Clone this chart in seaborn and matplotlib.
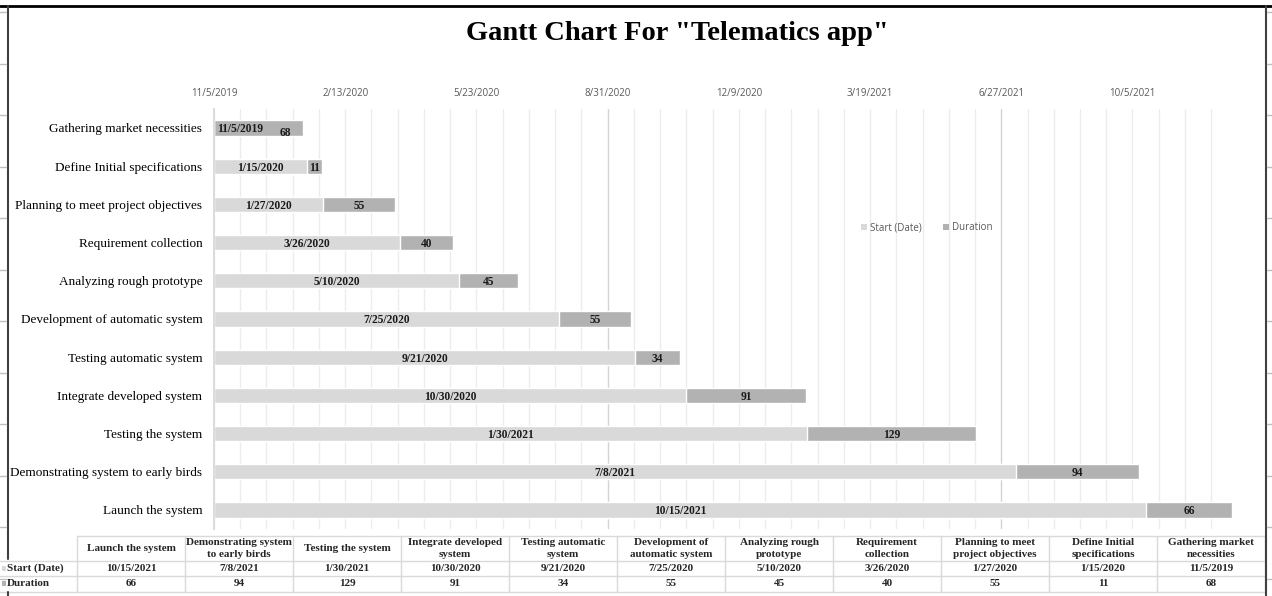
import matplotlib
matplotlib.use("Agg")
import matplotlib.pyplot as plt
import seaborn as sns
import pandas as pd
import numpy as np
import textwrap
from matplotlib.lines import Line2D
from matplotlib.patches import Patch, Rectangle

# ---------------- data ----------------
tasks = ["Launch the system", "Demonstrating system to early birds", "Testing the system",
         "Integrate developed system", "Testing automatic system", "Development of automatic system",
         "Analyzing rough prototype", "Requirement collection", "Planning to meet project objectives",
         "Define Initial specifications", "Gathering market necessities"]
start_dates = ["10/15/2021", "7/8/2021", "1/30/2021", "10/30/2020", "9/21/2020", "7/25/2020",
               "5/10/2020", "3/26/2020", "1/27/2020", "1/15/2020", "11/5/2019"]
durations = [66, 94, 129, 91, 34, 55, 45, 40, 55, 11, 68]
tick_labels = ["11/5/2019", "2/13/2020", "5/23/2020", "8/31/2020", "12/9/2020",
               "3/19/2021", "6/27/2021", "10/5/2021"]
axis_min_date = "11/5/2019"
axis_max_days = 777
grid_step_days = 20
title = 'Gantt Chart For "Telematics app"'
series_names = ["Start (Date)", "Duration"]

# ---------------- styling ----------------
W, H, DPI = 1272, 596, 100
LIGHT = "#d9d9d9"
DARK = "#b2b2b2"
SERIF = ["Liberation Serif", "DejaVu Serif"]
SANS = ["Open Sans", "DejaVu Sans"]

sns.set_theme(style="white")
plt.rcParams["font.family"] = SERIF

origin = pd.to_datetime(axis_min_date, format="%m/%d/%Y")
start_days = [(pd.to_datetime(d, format="%m/%d/%Y") - origin).days for d in start_dates]
df = pd.DataFrame({"task": tasks, "start": start_days, "dur": durations})
df["end"] = df["start"] + df["dur"]
order = tasks[::-1]

fx = lambda x: x / W
fy = lambda y: 1 - y / H

fig = plt.figure(figsize=(W / DPI, H / DPI), dpi=DPI)
ax_left, ax_right, ax_top, ax_bot = 214, 1233.5, 108.9, 529.1
ax = fig.add_axes([fx(ax_left), fy(ax_bot), fx(ax_right) - fx(ax_left), (ax_bot - ax_top) / H])

bw = 0.40
sns.barplot(data=df, y="task", x="end", order=order, color=DARK, saturation=1,
            width=bw, errorbar=None, ax=ax, orient="h", zorder=3)
sns.barplot(data=df, y="task", x="start", order=order, color=LIGHT, saturation=1,
            width=bw, errorbar=None, ax=ax, orient="h", zorder=4)

ax.set_xlim(0, axis_max_days)
ax.set_ylim(len(order) - 0.5, -0.5)
ax.set_xlabel("")
ax.set_ylabel("")

# x ticks on top
tick_pos = [(pd.to_datetime(t, format="%m/%d/%Y") - origin).days for t in tick_labels]
ax.xaxis.tick_top()
ax.set_xticks(tick_pos)
ax.set_xticklabels(tick_labels, fontfamily=SANS, fontsize=7, color="#595959")
ax.set_xticks(np.arange(0, axis_max_days, grid_step_days), minor=True)
ax.tick_params(axis="x", which="both", length=0, pad=7)
ax.tick_params(axis="y", length=0, pad=8.4, labelsize=9.5, labelcolor="black")
for lab in ax.get_yticklabels():
    lab.set_fontfamily(SERIF)
ax.grid(False)
for xv in np.arange(0, axis_max_days, grid_step_days):
    c = "#d3d3d3" if xv in (300, 600) else "#ececec"
    ax.axvline(xv, color=c, lw=1.0, zorder=1)
ax.set_axisbelow(True)
for s in ["top", "right", "bottom"]:
    ax.spines[s].set_visible(False)
ax.spines["left"].set_color("#d9d9d9")
ax.spines["left"].set_linewidth(1.3)
ax.spines["left"].set_zorder(5)

# bar labels
lab_kw = dict(fontsize=8.3, fontweight="bold", color="#1a1a1a", zorder=6, va="center_baseline")
for i, t in enumerate(order):
    row = df[df.task == t].iloc[0]
    sd = start_dates[tasks.index(t)]
    if row.start > 0:
        ax.text(row.start / 2, i, sd, ha="center", **lab_kw)
        ax.text(row.start + row.dur / 2, i, str(row.dur), ha="center", **lab_kw)
    else:
        ax.text(2.5, i, sd, ha="left", **lab_kw)
        ax.text(row.dur * 0.8, i + 0.08, str(row.dur), ha="center", **lab_kw)

# legend
handles = [Patch(facecolor=LIGHT, edgecolor="none", label=series_names[0]),
           Patch(facecolor=DARK, edgecolor="none", label=series_names[1])]
fig.legend(handles=handles, loc="center", bbox_to_anchor=(fx(927), fy(228)), ncol=2,
           frameon=False, prop={"family": SANS, "size": 7}, labelcolor="#595959",
           handlelength=0.6, handleheight=0.6, handletextpad=0.3, columnspacing=2.2)

# title
fig.text(fx(677), fy(33), title, ha="center", va="center", fontsize=20.5,
         fontweight="bold", family=SERIF, color="black")

# ---------------- data table ----------------
tcol0, tcolw = 77, 108
ty = [535.7, 560.7, 576.0, 591.7]
tline = "#d9d9d9"
n = len(tasks)
tright = tcol0 + n * tcolw
fig.add_artist(Line2D([fx(tcol0), fx(tright)], [fy(ty[0])] * 2, color=tline, lw=1))
for yy in ty[1:]:
    fig.add_artist(Line2D([fx(0), fx(tright)], [fy(yy)] * 2, color=tline, lw=1))
for k in range(n + 1):
    xx = tcol0 + k * tcolw
    fig.add_artist(Line2D([fx(xx)] * 2, [fy(ty[0]), fy(ty[-1])], color=tline, lw=1))
for k, t in enumerate(tasks):
    cx = tcol0 + (k + 0.5) * tcolw
    fig.text(fx(cx), fy((ty[0] + ty[1]) / 2), textwrap.fill(t, 20), ha="center", va="center",
             fontsize=8, fontweight="bold", family=SERIF, linespacing=1.4)
    fig.text(fx(cx), fy((ty[1] + ty[2]) / 2), start_dates[k], ha="center", va="center",
             fontsize=8, fontweight="bold", family=SERIF)
    fig.text(fx(cx), fy((ty[2] + ty[3]) / 2), str(durations[k]), ha="center", va="center",
             fontsize=8, fontweight="bold", family=SERIF)
for r, (name, col) in enumerate(zip(series_names, [LIGHT, DARK])):
    yc = (ty[r + 1] + ty[r + 2]) / 2
    fig.add_artist(Rectangle((fx(1.5), fy(yc + 2.5)), 4.5 / W, 5 / H, facecolor=col,
                             edgecolor="none", transform=fig.transFigure))
    fig.text(fx(7), fy(yc), name, ha="left", va="center", fontsize=8,
             fontweight="bold", family=SERIF)

# ---------------- sheet frame ----------------
fig.add_artist(Line2D([0, 1], [fy(6)] * 2, color="black", lw=2))
fig.add_artist(Line2D([fx(8)] * 2, [fy(6), fy(559)], color="#404040", lw=1.5))
fig.add_artist(Line2D([fx(8)] * 2, [fy(592), 0], color="#404040", lw=1.5))
fig.add_artist(Line2D([fx(1266)] * 2, [fy(6), 0], color="#404040", lw=1.5))
for yy in np.arange(12, H, 51.5):
    fig.add_artist(Line2D([0, fx(6)], [fy(yy)] * 2, color="#bfbfbf", lw=1))
    fig.add_artist(Line2D([fx(1267), 1], [fy(yy)] * 2, color="#bfbfbf", lw=1))

fig.savefig("out.png", dpi=DPI)
